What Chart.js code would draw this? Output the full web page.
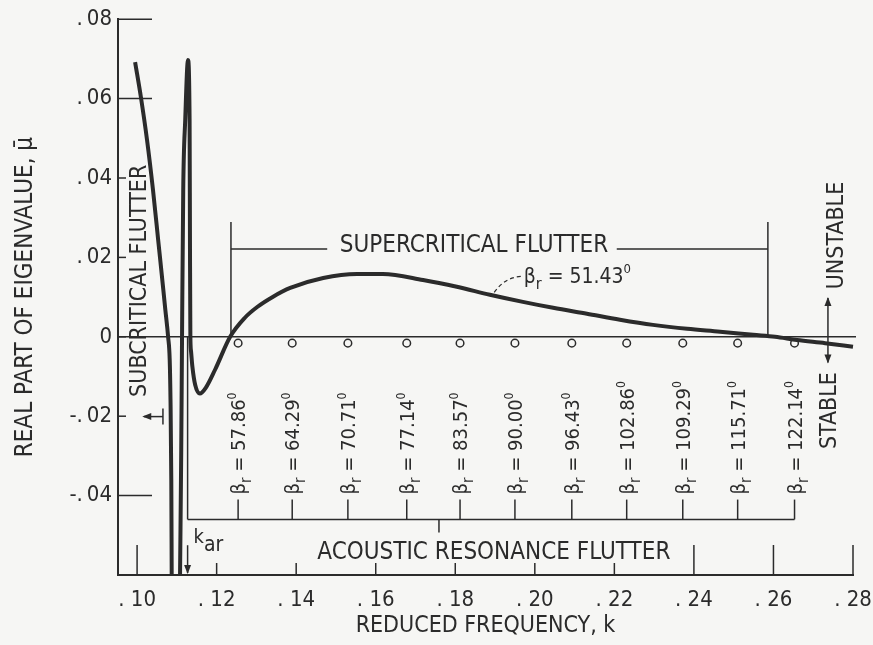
<!DOCTYPE html>
<html>
<head>
<meta charset="utf-8">
<script src="https://cdn.jsdelivr.net/npm/chart.js@4.4.1/dist/chart.umd.min.js"></script>
<style>
  html, body { margin: 0; padding: 0; background: #f6f6f4; }
</style>
</head>
<body>
<canvas id="flutter" width="873" height="645"></canvas>
<script>
// tick positions
var xTicks = [0.10, 0.12, 0.14, 0.16, 0.18, 0.20, 0.22, 0.24, 0.26, 0.28];
var yTicks = [0.08, 0.06, 0.04, 0.02, 0, -0.02, -0.04];

// left branch (subcritical side of the acoustic resonance)
var leftK  = [0.0995, 0.1010, 0.1025, 0.1040, 0.1053, 0.1066, 0.1071, 0.1078, 0.1082, 0.1084, 0.1086, 0.1087];
var leftMu = [0.0692, 0.0601, 0.0496, 0.0370, 0.0244, 0.0118, 0.0068, 0.0, -0.0058, -0.0158, -0.0360, -0.0599];

// right branch, beta_r = 51.43 deg
var mainK  = [0.1108, 0.1111, 0.1113, 0.1116, 0.1121, 0.1128, 0.1132, 0.1133, 0.1134, 0.11355, 0.1139, 0.1146,
              0.1158, 0.1173, 0.1196, 0.1234, 0.1271, 0.1302, 0.1342, 0.1385, 0.1468, 0.1553, 0.1618,
              0.1719, 0.1804, 0.1887, 0.1970, 0.2046, 0.2131, 0.2214, 0.2297, 0.2383, 0.2466, 0.2549,
              0.2604, 0.2659, 0.2730, 0.2800];
var mainMu = [-0.0599, -0.0284, 0.0, 0.0370, 0.0546, 0.0697, 0.0546, 0.0219, 0.0, -0.0035, -0.0075, -0.0121,
              -0.0143, -0.0128, -0.0083, 0.0, 0.0048, 0.0075, 0.0101, 0.0123, 0.0148, 0.0158, 0.0158,
              0.0143, 0.0126, 0.0106, 0.0088, 0.0073, 0.0058, 0.0043, 0.0030, 0.0020, 0.0013, 0.0005,
              0.0, -0.0008, -0.0016, -0.0025];

// neutral points of the other beta_r curves
var betaK      = [0.1254, 0.1390, 0.1530, 0.1678, 0.1812, 0.1950, 0.2093, 0.2231, 0.2372, 0.2510, 0.2653];
var betaLabels = ['57.86', '64.29', '70.71', '77.14', '83.57', '90.00', '96.43', '102.86', '109.29', '115.71', '122.14'];
var betaMarkMu = betaK.map(function () { return -0.0016; });

var kAr = 0.1127;

var FONT = "'Liberation Sans Narrow', 'DejaVu Sans Condensed', 'Roboto Condensed', sans-serif";
var ink = '#2b2b2b';
var paper = '#f6f6f4';

function pts(xs, ys) {
  return xs.map(function (v, i) { return { x: v, y: ys[i] }; });
}

function seg(ctx, x1, y1, x2, y2) {
  ctx.beginPath(); ctx.moveTo(x1, y1); ctx.lineTo(x2, y2); ctx.stroke();
}

function head(ctx, x, y, ang) {
  // filled arrow head pointing along ang
  var l = 9, w = 3.5;
  ctx.save(); ctx.translate(x, y); ctx.rotate(ang);
  ctx.beginPath(); ctx.moveTo(0, 0); ctx.lineTo(-l, -w); ctx.lineTo(-l, w); ctx.closePath(); ctx.fill();
  ctx.restore();
}

// parts: [text, size factor, baseline shift in em]
function rich(ctx, parts, x0, y0, rot, size, anchor) {
  var w = 0;
  parts.forEach(function (p) {
    ctx.font = Math.round(size * p[1]) + 'px ' + FONT;
    p.w = ctx.measureText(p[0]).width; w += p.w;
  });
  ctx.save();
  ctx.translate(x0, y0); ctx.rotate(rot);
  ctx.textAlign = 'left'; ctx.textBaseline = 'alphabetic';
  var cx = -w * (anchor || 0);
  parts.forEach(function (p) {
    ctx.font = Math.round(size * p[1]) + 'px ' + FONT;
    ctx.fillText(p[0], cx, p[2] * size);
    cx += p.w;
  });
  ctx.restore();
}

var notes = {
  id: 'notes',
  beforeDatasetsDraw: function (chart) {
    var ctx = chart.ctx, xs = chart.scales.x, ys = chart.scales.y;
    var X = function (k) { return xs.getPixelForValue(k); };
    var Y = function (m) { return ys.getPixelForValue(m); };
    var UP = -Math.PI / 2;
    ctx.save();
    ctx.strokeStyle = ink; ctx.fillStyle = ink; ctx.lineWidth = 1.5;

    // zero line
    seg(ctx, xs.left, Y(0), xs.right + 3, Y(0));

    // inward ticks
    xTicks.forEach(function (v, i) {
      var len = (i === 0 || i >= 7) ? 30 : 12;
      seg(ctx, X(v), ys.bottom, X(v), ys.bottom - len);
    });
    yTicks.forEach(function (v) {
      var len = (v === 0.08 || v === 0.06 || v === -0.04) ? 34 : 8;
      seg(ctx, xs.left, Y(v), xs.left + len, Y(v));
    });

    // supercritical flutter bracket
    var sL = X(0.1236), sR = X(0.2586), sTop = Y(0.0289), sBar = Y(0.0221);
    seg(ctx, sL, sTop, sL, Y(0));
    seg(ctx, sR, sTop, sR, Y(0));
    seg(ctx, sL, sBar, X(0.1478), sBar);
    seg(ctx, X(0.2206), sBar, sR, sBar);
    rich(ctx, [['SUPERCRITICAL FLUTTER', 1, 0]], X(0.1847), sBar + 3, 0, 24, 0.5);

    // acoustic resonance bracket
    var aBar = Y(-0.0460);
    seg(ctx, X(kAr), Y(0), X(kAr), aBar);
    seg(ctx, X(kAr), aBar, X(betaK[betaK.length - 1]), aBar);
    seg(ctx, X(0.1759), aBar, X(0.1759), aBar + 13);
    betaK.forEach(function (k, i) {
      seg(ctx, X(k), aBar, X(k), Y(-0.0410));
      rich(ctx, [['\u03b2', 1, 0], ['r', 0.75, 0.3], [' = ' + betaLabels[i], 1, 0], ['0', 0.62, -0.45]],
           X(k) + 7, Y(-0.0397), UP, 20, 0);
    });
    rich(ctx, [['ACOUSTIC RESONANCE FLUTTER', 1, 0]], X(0.1897), Y(-0.0536) + 9, 0, 24, 0.5);

    // k_ar marker
    seg(ctx, X(kAr), Y(-0.0525), X(kAr), ys.bottom - 2);
    head(ctx, X(kAr), ys.bottom - 1, Math.PI / 2);
    rich(ctx, [['k', 1, 0], ['ar', 1.05, 0.38]], X(kAr) + 6, Y(-0.0520), 0, 20, 0);

    // subcritical flutter
    rich(ctx, [['SUBCRITICAL FLUTTER', 1, 0]], X(0.1003) + 8, Y(0.0141), UP, 23, 0.5);
    var aY = Y(-0.0201);
    seg(ctx, X(0.1065), aY, X(0.1017), aY);
    seg(ctx, X(0.1065), aY - 8, X(0.1065), aY + 8);
    head(ctx, X(0.1013), aY, Math.PI);

    // curve label with leader
    rich(ctx, [['\u03b2', 1, 0], ['r', 0.75, 0.3], [' = 51.43', 1, 0], ['0', 0.62, -0.45]],
         X(0.1972), Y(0.0136), 0, 21, 0);
    ctx.save(); ctx.setLineDash([4, 3]); ctx.lineWidth = 1.2;
    ctx.beginPath(); ctx.moveTo(X(0.1898), Y(0.0112));
    ctx.quadraticCurveTo(X(0.1925), Y(0.0150), X(0.1965), Y(0.0152)); ctx.stroke();
    ctx.restore();

    // stable / unstable
    rich(ctx, [['UNSTABLE', 1, 0]], X(0.2754) + 8, Y(0.0255), UP, 23, 0.5);
    rich(ctx, [['STABLE', 1, 0]], X(0.2737) + 8, Y(-0.0186), UP, 23, 0.5);
    var uX = X(0.2737);
    seg(ctx, uX, Y(0.0098), uX, Y(-0.0065));
    head(ctx, uX, Y(0.0100), -Math.PI / 2);
    head(ctx, uX, Y(-0.0067), Math.PI / 2);

    ctx.restore();
  }
};

new Chart(document.getElementById('flutter'), {
  type: 'scatter',
  data: {
    datasets: [{
      data: pts(leftK, leftMu),
      showLine: true,
      borderColor: ink,
      borderWidth: 4,
      pointRadius: 0,
      cubicInterpolationMode: 'monotone'
    }, {
      data: pts(mainK, mainMu),
      showLine: true,
      borderColor: ink,
      borderWidth: 4,
      pointRadius: 0,
      cubicInterpolationMode: 'monotone',
      clip: false
    }, {
      data: pts(betaK, betaMarkMu),
      showLine: false,
      pointRadius: 3.8,
      pointBackgroundColor: paper,
      pointBorderColor: ink,
      pointBorderWidth: 1.5
    }]
  },
  options: {
    responsive: false,
    animation: false,
    layout: { padding: { top: 19, right: 20, left: 0, bottom: 0 } },
    plugins: {
      legend: { display: false },
      tooltip: { enabled: false }
    },
    scales: {
      x: {
        type: 'linear',
        min: 0.0952,
        max: 0.28,
        afterFit: function (s) { s.height = 70; s.paddingRight = 0; s.paddingLeft = 0; },
        afterBuildTicks: function (s) { s.ticks = xTicks.map(function (v) { return { value: v }; }); },
        grid: { display: true, drawOnChartArea: false, drawTicks: false },
        border: { display: true, color: ink, width: 2 },
        ticks: {
          padding: 12,
          color: ink,
          font: { family: FONT, size: 22 },
          maxRotation: 0,
          callback: function (v) { return '. ' + Math.round(v * 100); }
        },
        title: {
          display: true,
          text: 'REDUCED FREQUENCY, k',
          color: ink,
          font: { family: FONT, size: 23 },
          padding: { top: 0, bottom: 5 }
        }
      },
      y: {
        type: 'linear',
        min: -0.06,
        max: 0.08,
        afterFit: function (s) { s.width = 118; },
        afterBuildTicks: function (s) { s.ticks = yTicks.map(function (v) { return { value: v }; }); },
        grid: { display: true, drawOnChartArea: false, drawTicks: false },
        border: { display: true, color: ink, width: 2 },
        ticks: {
          padding: 6,
          color: ink,
          font: { family: FONT, size: 22 },
          callback: function (v) {
            if (Math.abs(v) < 1e-9) return '0';
            var d = String(Math.round(Math.abs(v) * 100)).padStart(2, '0');
            return (v < 0 ? '-.' : '.') + '\u2009' + d;
          }
        },
        title: {
          display: true,
          text: 'REAL PART OF EIGENVALUE, \u03bc\u0304',
          color: ink,
          font: { family: FONT, size: 24 },
          padding: { top: 11, bottom: 0 }
        }
      }
    }
  },
  plugins: [notes]
});
</script>
</body>
</html>
